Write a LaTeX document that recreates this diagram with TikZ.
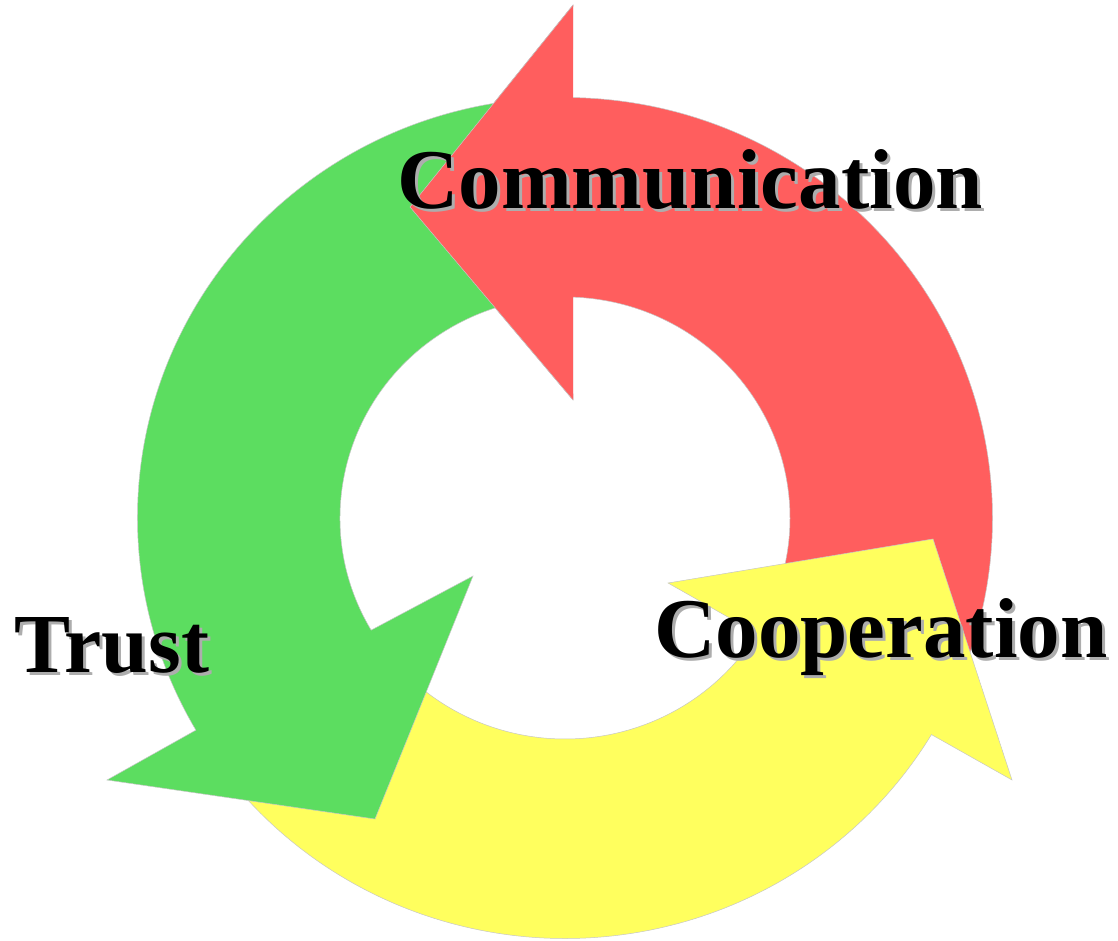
\documentclass[tikz,border=0pt]{standalone}
\usepackage{fontspec}
\setmainfont{Liberation Serif}
\usetikzlibrary{calc}
\definecolor{cycred}{RGB}{255,94,94}
\definecolor{cycgreen}{RGB}{92,221,96}
\definecolor{cycyellow}{RGB}{255,255,94}
% bold label with a light drop shadow set behind it
\newcommand{\shadowed}[1]{\leavevmode\rlap{\kern3pt\raisebox{-3pt}{\textcolor{black!32}{#1}}}#1}
\begin{document}
\begin{tikzpicture}[x=1pt,y=1pt,
  band/.style={line width=0.5pt, draw=black!22, line join=miter},
  lbl/.style={inner sep=0pt, anchor=base west, text=black,
              font=\fontsize{#1}{#1}\selectfont\bfseries},
]
\useasboundingbox (0,0) rectangle (1118,940);
\coordinate (C) at (565,422);
% ring radii (outer / inner, slightly flattened vertically)
\def\rox{427.5}\def\roy{420.5}
\def\rix{225}\def\riy{221}

% red arrow: Communication (right side up to the top, pointing left)
\fill[cycred, band] ($(C)+(-22:\rox pt and \roy pt)$)
  arc[start angle=-22, end angle=89, x radius=\rox, y radius=\roy]
  -- (573,935) -- (410,733) -- (573,540)
  -- ($(C)+(88:\rix pt and \riy pt)$)
  arc[start angle=88, end angle=-22, x radius=\rix, y radius=\riy]
  -- cycle;

% yellow arrow: Cooperation (bottom, pointing up to the right)
\fill[cycyellow, band] ($(C)+(218:\rox pt and \roy pt)$)
  arc[start angle=218, end angle=329, x radius=\rox, y radius=\roy]
  -- (1012,160) -- (933,401) -- (668,357)
  -- ($(C)+(328.5:\rix pt and \riy pt)$)
  arc[start angle=328.5, end angle=218, x radius=\rix, y radius=\riy]
  -- cycle;

% green arrow: Trust (left side, pointing down)
\fill[cycgreen, band] ($(C)+(95:\rox pt and \roy pt)$)
  arc[start angle=95, end angle=210.3, x radius=\rox, y radius=\roy]
  -- (107,160) -- (375,121) -- (473,364)
  -- ($(C)+(210.5:\rix pt and \riy pt)$)
  arc[start angle=210.5, end angle=95, x radius=\rix, y radius=\riy]
  -- cycle;

% red head laid again over the green tail
\coordinate (rhout) at (573,935);
\coordinate (rhtip) at (410,733);
\coordinate (rhin) at (573,540);
\fill[cycred] (rhout) -- (rhtip) -- (rhin) -- cycle;
\draw[band] (rhout) -- (rhtip) -- (rhin);

% labels
\node[lbl=85] (comm) at (397,731) {\shadowed{Communication}};
\node[lbl=85] (coop) at (654,283) {\shadowed{Cooperation}};
\node[lbl=84] (trust) at (14.5,268) {\shadowed{Trust}};
\end{tikzpicture}
\end{document}
